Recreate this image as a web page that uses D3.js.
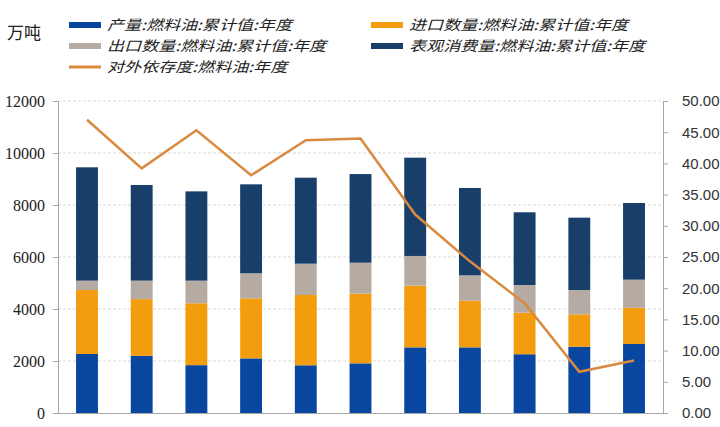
<!DOCTYPE html>
<html><head><meta charset="utf-8">
<script src="https://cdn.jsdelivr.net/npm/d3@7"></script>
<style>body{margin:0;background:#fff}svg{display:block}</style>
</head><body><svg id="c" width="720" height="427"></svg>
<script>
const categories = ["1","2","3","4","5","6","7","8","9","10","11"];
const production  = [2270,2200,1840,2100,1835,1910,2525,2525,2260,2550,2655];
const imports     = [2460,2180,2380,2310,2705,2680,2375,1795,1600,1245,1395];
const exports     = [360,710,870,963,1203,1190,1140,975,1063,935,1078];
const consumption = [4360,3680,3435,3422,3307,3410,3780,3360,2797,2783,2949];
const dependency  = [47.0,39.2,45.3,38.1,43.7,44.0,31.8,24.3,17.6,6.6,8.4];
const leftTicks = [0,2000,4000,6000,8000,10000,12000];
const rightTicks = [0,5,10,15,20,25,30,35,40,45,50];
const unitLabel = "万吨";
const seriesNames = ["产量:燃料油:累计值:年度","进口数量:燃料油:累计值:年度","出口数量:燃料油:累计值:年度","表观消费量:燃料油:累计值:年度","对外依存度:燃料油:年度"];
const colors = ["#0846a0","#f29c0e","#b5aba3","#173f69","#d98a3f"];

const svg = d3.select("#c");
const L=58, R=663, T=101, B=413;
const x = d3.scaleBand().domain(categories).range([L,R]).paddingInner(0.6).paddingOuter(0.33);
const yL = d3.scaleLinear().domain([0,12000]).range([B,T]);
const yR = d3.scaleLinear().domain([0,50]).range([B,T]);

// grid
svg.append("g").selectAll("line").data(leftTicks.slice(1)).join("line")
  .attr("x1",L).attr("x2",R).attr("y1",d=>yL(d)).attr("y2",d=>yL(d))
  .attr("stroke","#d8d8d8").attr("stroke-width",1).attr("stroke-dasharray","3,2");

// stacked bars
const rows = categories.map((c,i)=>({cat:c, s0:production[i], s1:imports[i], s2:exports[i], s3:consumption[i]}));
const stack = d3.stack().keys(["s0","s1","s2","s3"])(rows);
svg.append("g").selectAll("g").data(stack).join("g").attr("fill",(d,i)=>colors[i])
  .selectAll("rect").data(d=>d).join("rect")
  .attr("x",d=>x(d.data.cat)).attr("width",x.bandwidth())
  .attr("y",d=>yL(d[1])).attr("height",d=>yL(d[0])-yL(d[1]));

// axes
const axL = svg.append("g").attr("transform",`translate(${L},0)`)
  .call(d3.axisLeft(yL).tickValues(leftTicks).tickSize(5).tickPadding(8).tickFormat(d3.format("d")));
const axR = svg.append("g").attr("transform",`translate(${R},0)`)
  .call(d3.axisRight(yR).tickValues(rightTicks).tickSize(5).tickPadding(14).tickFormat(d3.format(".2f")));
const axB = svg.append("g").attr("transform",`translate(0,${B})`)
  .call(d3.axisBottom(x).tickSize(0).tickFormat(""));
[axL,axR,axB].forEach(a=>{a.selectAll("path,line").attr("stroke","#a6a6a6");});
axL.selectAll("text").attr("font-family","'Liberation Serif',serif").attr("font-size",16).attr("fill","#222");
axR.selectAll("text").attr("font-family","'Liberation Sans',sans-serif").attr("font-size",15).attr("fill","#333");

// line
const line = d3.line().x((d,i)=>x(categories[i])+x.bandwidth()/2).y(d=>yR(d));
svg.append("path").datum(dependency).attr("d",line).attr("fill","none")
  .attr("stroke",colors[4]).attr("stroke-width",2.5).attr("stroke-linejoin","miter");

// legend
svg.append("text").attr("x",7).attr("y",39).text(unitLabel)
  .attr("font-family","'Noto Sans CJK SC',sans-serif").attr("font-size",17).attr("fill","#222");
const legPos = [[69,25],[371,25],[69,46],[371,46],[69,67]];
const legOrder = [0,1,2,3,4];
const lg = svg.append("g").selectAll("g").data(legOrder).join("g")
  .attr("transform",(d,i)=>`translate(${legPos[i][0]},${legPos[i][1]})`);
lg.filter(d=>d<4).append("rect").attr("x",0).attr("y",-3).attr("width",32).attr("height",6).attr("fill",d=>colors[d]);
lg.filter(d=>d===4).append("line").attr("x1",0).attr("x2",32).attr("stroke",colors[4]).attr("stroke-width",3);
lg.append("text").attr("transform","translate(38,5) scale(1.22,1)").text(d=>seriesNames[d])
  .attr("font-family","'Noto Sans CJK SC',sans-serif").attr("font-style","italic")
  .attr("font-size",14).attr("fill","#222");
</script></body></html>
